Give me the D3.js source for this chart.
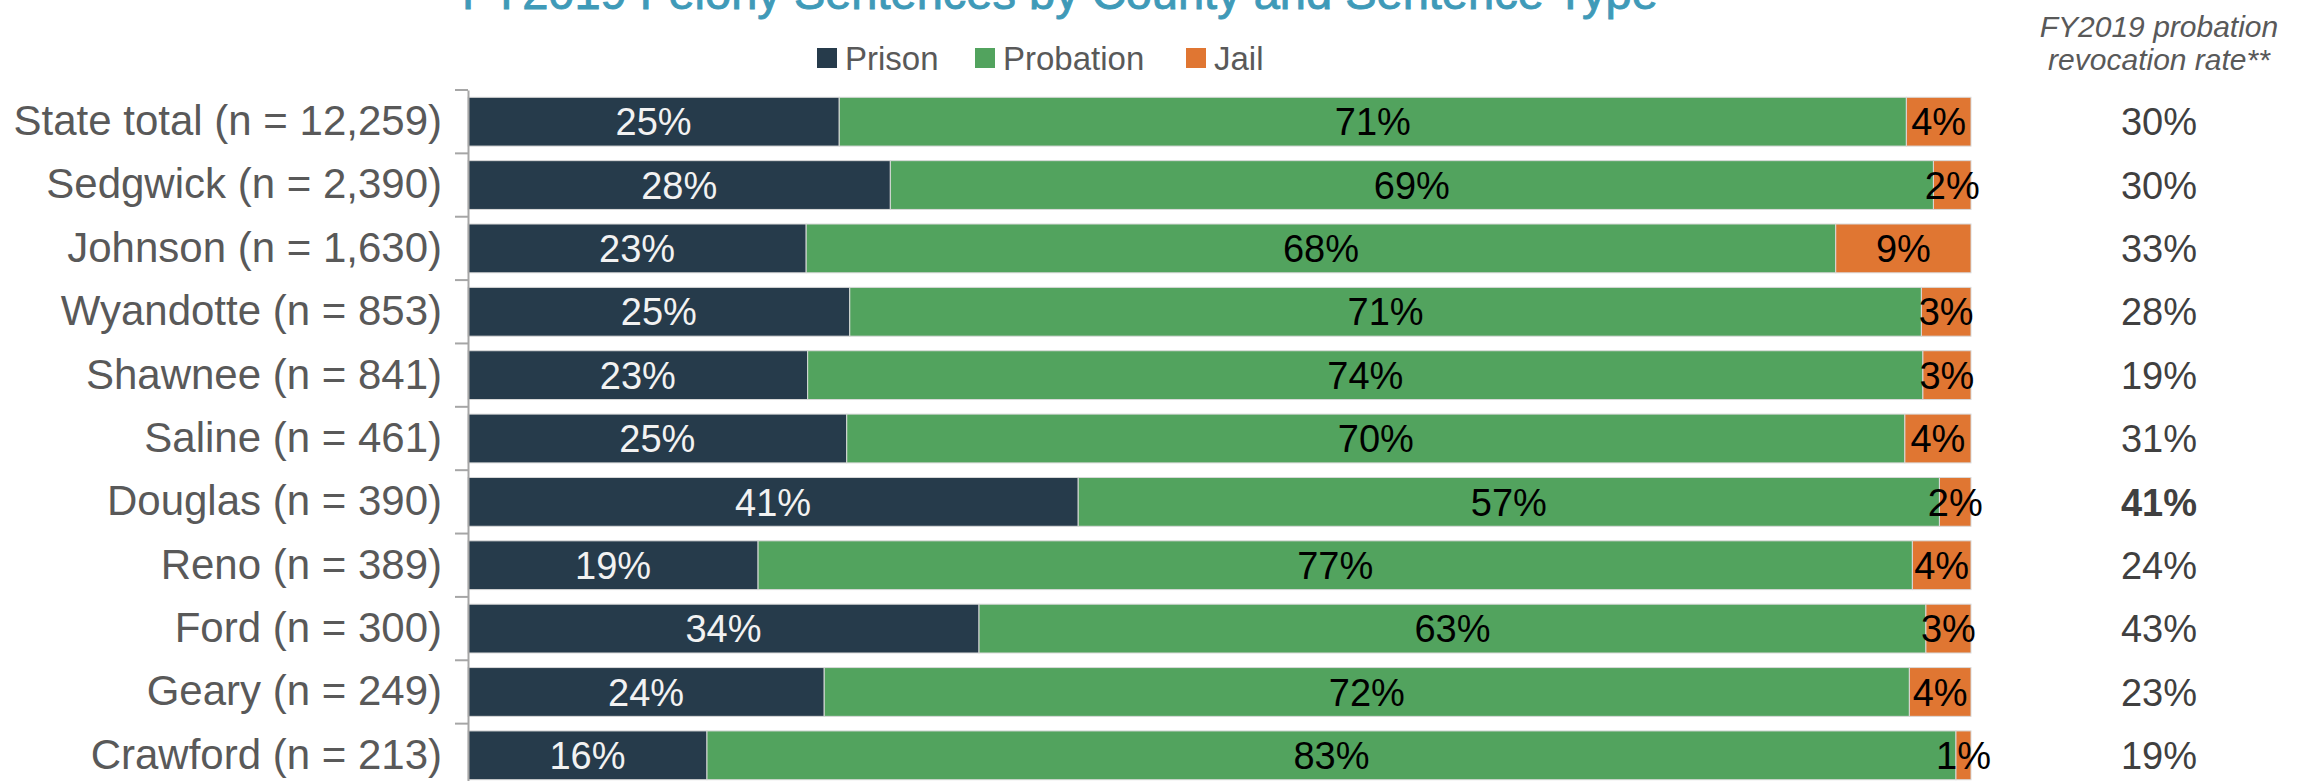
<!DOCTYPE html>
<html>
<head>
<meta charset="utf-8">
<script src="https://cdn.jsdelivr.net/npm/d3@7"></script>
<style>
  body { margin: 0; background: #fff; }
  text { font-family: "Liberation Sans", Arial, sans-serif; }
</style>
</head>
<body>
<div id="chart-area"></div>
<script>
const SVG_WIDTH = 2308;
const SVG_HEIGHT = 781;

// data
const counties = ["State total (n = 12,259)", "Sedgwick (n = 2,390)", "Johnson (n = 1,630)",
  "Wyandotte (n = 853)", "Shawnee (n = 841)", "Saline (n = 461)", "Douglas (n = 390)",
  "Reno (n = 389)", "Ford (n = 300)", "Geary (n = 249)", "Crawford (n = 213)"];
const types = ["Prison", "Probation", "Jail"];
const prison = [24.7, 28.1, 22.5, 25.4, 22.6, 25.2, 40.6, 19.3, 34.0, 23.7, 15.9];
const probation = [71.0, 69.4, 68.5, 71.3, 74.2, 70.4, 57.3, 76.8, 63.0, 72.2, 83.1];
const jail = [4.3, 2.5, 9.0, 3.3, 3.2, 4.4, 2.1, 3.9, 3.0, 4.1, 1.0];
const prisonLabel = [25, 28, 23, 25, 23, 25, 41, 19, 34, 24, 16];
const probationLabel = [71, 69, 68, 71, 74, 70, 57, 77, 63, 72, 83];
const jailLabel = [4, 2, 9, 3, 3, 4, 2, 4, 3, 4, 1];
const revocation = [30, 30, 33, 28, 19, 31, 41, 24, 43, 23, 19];
const revocationBold = "Douglas (n = 390)";

const colors = ["#263b4b", "#52a35e", "#e07632"];
const labelColors = ["#f2f2f2", "#000000", "#000000"];

const rows = counties.map((c, i) => ({
  county: c, Prison: prison[i], Probation: probation[i], Jail: jail[i],
  labels: [prisonLabel[i], probationLabel[i], jailLabel[i]], rate: revocation[i]
}));

const svg = d3.select("#chart-area").append("svg")
  .attr("width", SVG_WIDTH).attr("height", SVG_HEIGHT);

const x = d3.scaleLinear().domain([0, 100]).range([468, 1971]);
const y = d3.scaleBand().domain(counties).range([90, 787]).paddingInner(0.23).paddingOuter(0.115);
const color = d3.scaleOrdinal().domain(types).range(colors);

const stack = d3.stack().keys(types)(rows);

// title (mostly above the frame, as in the source)
svg.append("text")
  .attr("x", 1060).attr("y", 9)
  .attr("text-anchor", "middle")
  .attr("font-size", "47px")
  .style("fill", "#3f9ab8")
  .style("stroke", "#3f9ab8")
  .style("stroke-width", 0.9)
  .text("FY2019 Felony Sentences by County and Sentence Type");

// legend
const legend = svg.append("g").attr("class", "legend");
const legendX = [817, 975, 1186];
types.forEach((t, i) => {
  legend.append("rect").attr("x", legendX[i]).attr("y", 48).attr("width", 20).attr("height", 20)
    .attr("fill", color(t));
  legend.append("text").attr("x", legendX[i] + 28).attr("y", 70)
    .attr("font-size", "33px").style("fill", "#595959").text(t);
});

// bars
const layers = svg.append("g").selectAll("g").data(stack).enter().append("g")
  .attr("fill", d => color(d.key));

layers.selectAll("rect").data(d => d).enter().append("rect")
  .attr("x", d => x(d[0]))
  .attr("y", d => y(d.data.county))
  .attr("width", d => x(d[1]) - x(d[0]))
  .attr("height", y.bandwidth())
  .attr("stroke", "#d9d9d9")
  .attr("stroke-width", 1);

// bar labels
stack.forEach((layer, k) => {
  svg.append("g").selectAll("text").data(layer).enter().append("text")
    .attr("x", d => (x(d[0]) + x(d[1])) / 2)
    .attr("y", d => y(d.data.county) + y.bandwidth() / 2)
    .attr("dy", "0.36em")
    .attr("text-anchor", "middle")
    .attr("font-size", "38px")
    .style("fill", labelColors[k])
    .text(d => d.data.labels[k] + "%");
});

// category axis
const yAxisGroup = svg.append("g").attr("class", "y-axis").attr("transform", `translate(${x(0)},0)`);
yAxisGroup.call(d3.axisLeft(y).tickSize(0).tickSizeOuter(0).tickPadding(26));
yAxisGroup.select(".domain").attr("stroke", "#a6a6a6").attr("stroke-width", 2);
yAxisGroup.selectAll(".tick text")
  .attr("font-size", "42px")
  .style("font-family", "'Liberation Sans', Arial, sans-serif")
  .style("fill", "#595959");

// ticks between categories
const bounds = d3.range(counties.length + 1).map(i => y.range()[0] + i * y.step());
yAxisGroup.selectAll(".sep").data(bounds).enter().append("line")
  .attr("class", "sep")
  .attr("x1", -13).attr("x2", 0)
  .attr("y1", d => d).attr("y2", d => d)
  .attr("stroke", "#a6a6a6").attr("stroke-width", 2);

// revocation column
const rateX = 2159;
svg.append("text").attr("x", rateX).attr("y", 37)
  .attr("text-anchor", "middle").attr("font-size", "30px").attr("font-style", "italic")
  .style("fill", "#595959").text("FY2019 probation");
svg.append("text").attr("x", rateX).attr("y", 70)
  .attr("text-anchor", "middle").attr("font-size", "30px").attr("font-style", "italic")
  .style("fill", "#595959").text("revocation rate**");

svg.append("g").selectAll("text").data(rows).enter().append("text")
  .attr("x", rateX)
  .attr("y", d => y(d.county) + y.bandwidth() / 2)
  .attr("dy", "0.36em")
  .attr("text-anchor", "middle")
  .attr("font-size", "38px")
  .attr("font-weight", d => d.county === revocationBold ? "bold" : "normal")
  .style("fill", "#404040")
  .text(d => d.rate + "%");
</script>
</body>
</html>
